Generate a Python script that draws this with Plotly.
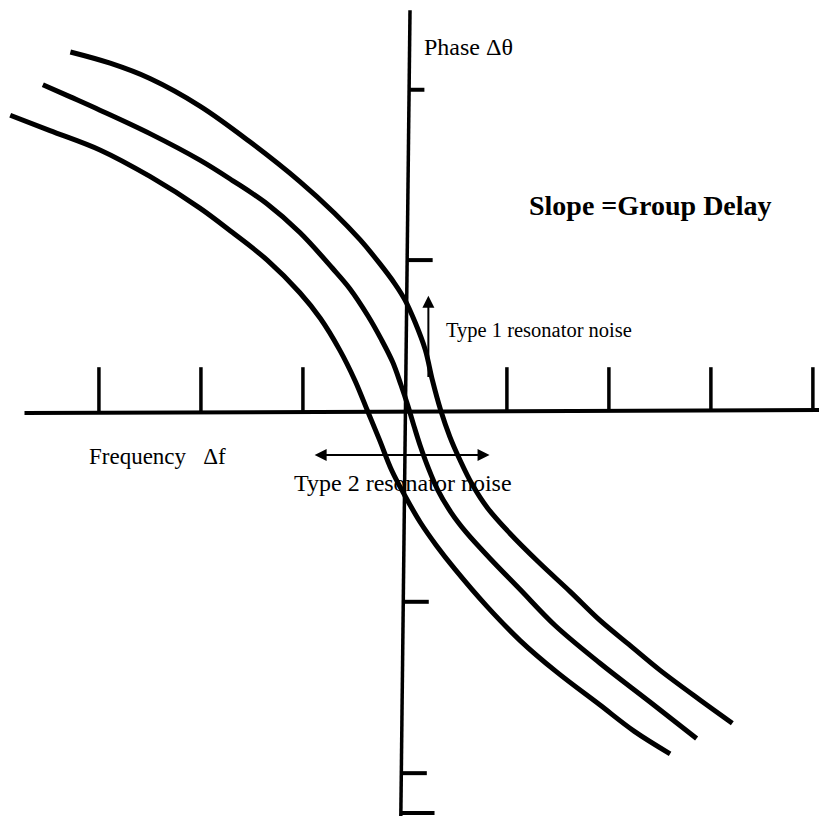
import plotly.graph_objects as go

# Units: one frequency tick = one unit; phase drawn on the same scale.
# Three phase-vs-frequency characteristics (slope = group delay)
upper_f = [-3.28, -2.89, -2.50, -2.01, -1.52, -1.03, -0.69, -0.44, -0.25, -0.10, 0.00, 0.10,
           0.20, 0.27, 0.35, 0.44, 0.54, 0.66, 0.81, 1.03, 1.32, 1.62, 1.91, 2.21, 2.50, 2.89, 3.21]
upper_p = [3.52, 3.41, 3.26, 2.99, 2.64, 2.25, 1.94, 1.68, 1.45, 1.25, 1.09, 0.87,
           0.60, 0.30, 0.01, -0.25, -0.48, -0.72, -0.95, -1.20, -1.49, -1.77, -2.05, -2.30,
           -2.54, -2.83, -3.06]

middle_f = [-3.55, -3.28, -2.99, -2.50, -2.01, -1.69, -1.35, -1.03, -0.71, -0.54, -0.36, -0.23,
            -0.12, -0.04, 0.03, 0.09, 0.15, 0.23, 0.32, 0.45, 0.61, 0.83, 1.13, 1.47, 1.91,
            2.40, 2.86]
middle_p = [3.20, 3.08, 2.95, 2.72, 2.46, 2.26, 2.03, 1.75, 1.40, 1.20, 0.93, 0.70,
            0.48, 0.26, 0.05, -0.15, -0.34, -0.56, -0.77, -0.99, -1.20, -1.44, -1.75, -2.10,
            -2.47, -2.85, -3.21]

lower_f = [-3.87, -3.48, -2.99, -2.50, -2.01, -1.69, -1.35, -1.03, -0.83, -0.64, -0.49, -0.37,
           -0.25, -0.13, 0.00, 0.15, 0.31, 0.49, 0.80, 1.13, 1.49, 1.91, 2.25, 2.60]
lower_p = [2.90, 2.75, 2.56, 2.30, 1.99, 1.75, 1.48, 1.16, 0.91, 0.60, 0.30, 0.01,
           -0.28, -0.58, -0.83, -1.09, -1.32, -1.55, -1.91, -2.25, -2.56, -2.88, -3.14, -3.36]

# Axis ticks
freq_ticks = [-3, -2, -1, 1, 2, 3, 4]
phase_ticks = [3.15, 1.48, -1.87, -3.55, -3.94]
phase_tick_len = [0.15, 0.25, 0.25, 0.25, 0.33]

# Labels
phase_label = "Phase Δθ"
freq_label = "Frequency&nbsp;&nbsp;&nbsp;Δf"
slope_label = "Slope =Group Delay"
type1_label = "Type 1 resonator noise"
type2_label = "Type 2 resonator noise"

INK = "#000000"
FONT = "Liberation Serif"

fig = go.Figure()

for f, p in [(upper_f, upper_p), (middle_f, middle_p), (lower_f, lower_p)]:
    fig.add_trace(go.Scatter(x=f, y=p, mode="lines",
                             line=dict(color=INK, width=5, shape="spline", smoothing=1.0),
                             hoverinfo="skip", showlegend=False))

# Axes drawn by hand
shapes = [
    dict(type="line", x0=-3.73, y0=-0.02, x1=4.06, y1=0.01, line=dict(color=INK, width=4)),
    dict(type="line", x0=0.05, y0=3.93, x1=-0.04, y1=-3.97, line=dict(color=INK, width=3.5)),
]
for t in freq_ticks:
    shapes.append(dict(type="line", x0=t, y0=0.0, x1=t, y1=0.43, line=dict(color=INK, width=3.5)))
for t, ln in zip(phase_ticks, phase_tick_len):
    x0 = 0.05 - (3.93 - t) * 0.09 / 7.9
    shapes.append(dict(type="line", x0=x0, y0=t, x1=x0 + ln, y1=t, line=dict(color=INK, width=4)))

annotations = [
    dict(x=0.17, y=3.57, text=phase_label, font=dict(size=24)),
    dict(x=1.20, y=2.02, text="<b>" + slope_label + "</b>", font=dict(size=28)),
    dict(x=0.38, y=0.79, text=type1_label, font=dict(size=20.5)),
    dict(x=-3.12, y=-0.45, text=freq_label, font=dict(size=23)),
    dict(x=-1.11, y=-0.71, text=type2_label, font=dict(size=24)),
]
for a in annotations:
    a.update(xref="x", yref="y", xanchor="left", yanchor="middle", showarrow=False)
    a["font"].update(family=FONT, color=INK)

# Noise arrows
annotations.append(dict(x=0.23, y=1.13, ax=0.23, ay=0.32, xref="x", yref="y", axref="x", ayref="y",
                        text="", showarrow=True, arrowhead=2, arrowsize=1.2, arrowwidth=2,
                        arrowcolor=INK))
annotations.append(dict(x=0.83, y=-0.43, ax=-0.90, ay=-0.43, xref="x", yref="y", axref="x", ayref="y",
                        text="", showarrow=True, arrowhead=2, startarrowhead=2, arrowside="end+start",
                        arrowsize=1.2, arrowwidth=2, arrowcolor=INK))

fig.update_layout(
    width=819, height=816,
    margin=dict(l=0, r=0, t=0, b=0),
    paper_bgcolor="white", plot_bgcolor="white",
    shapes=shapes, annotations=annotations,
    xaxis=dict(range=[-3.97, 4.06], visible=False, fixedrange=True),
    yaxis=dict(range=[-3.97, 4.03], visible=False, fixedrange=True),
)

fig.write_html("out.html")
